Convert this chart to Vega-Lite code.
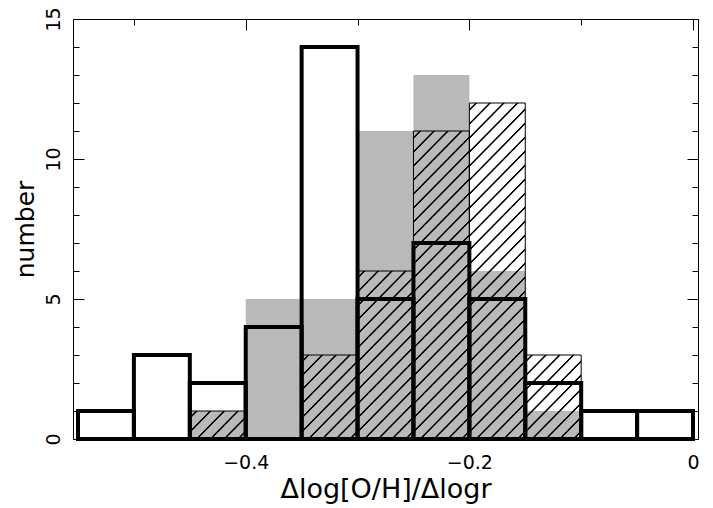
{
  "$schema": "https://vega.github.io/schema/vega-lite/v6.json",
  "autosize": {"type": "none"},
  "padding": {"left": 73, "top": 19, "right": 15, "bottom": 69},
  "width": 625,
  "height": 420,
  "background": "white",
  "config": {
    "view": {"stroke": "black", "strokeWidth": 1},
    "axis": {"grid": false, "domain": false, "tickColor": "black", "tickWidth": 1, "labelColor": "black", "titleColor": "black", "labelFont": "DejaVu Sans", "titleFont": "DejaVu Sans", "titleFontWeight": "normal"}
  },
  "datasets": {
    "bins": [
      {"lo": -0.55, "hi": -0.5, "thick": 1, "grey": 0},
      {"lo": -0.5, "hi": -0.45, "thick": 3, "grey": 0},
      {"lo": -0.45, "hi": -0.4, "thick": 2, "grey": 1},
      {"lo": -0.4, "hi": -0.35, "thick": 4, "grey": 5},
      {"lo": -0.35, "hi": -0.3, "thick": 14, "grey": 5},
      {"lo": -0.3, "hi": -0.25, "thick": 5, "grey": 11},
      {"lo": -0.25, "hi": -0.2, "thick": 7, "grey": 13},
      {"lo": -0.2, "hi": -0.15, "thick": 5, "grey": 6},
      {"lo": -0.15, "hi": -0.1, "thick": 2, "grey": 1},
      {"lo": -0.1, "hi": -0.05, "thick": 1, "grey": 0},
      {"lo": -0.05, "hi": 0, "thick": 1, "grey": 0}
    ],
    "hatched": [
      {"lo": -0.45, "hi": -0.4, "id": 1},
      {"lo": -0.35, "hi": -0.3, "id": 2},
      {"lo": -0.35, "hi": -0.3, "id": 3},
      {"lo": -0.35, "hi": -0.3, "id": 4},
      {"lo": -0.3, "hi": -0.25, "id": 5},
      {"lo": -0.3, "hi": -0.25, "id": 6},
      {"lo": -0.3, "hi": -0.25, "id": 7},
      {"lo": -0.3, "hi": -0.25, "id": 8},
      {"lo": -0.3, "hi": -0.25, "id": 9},
      {"lo": -0.3, "hi": -0.25, "id": 10},
      {"lo": -0.25, "hi": -0.2, "id": 11},
      {"lo": -0.25, "hi": -0.2, "id": 12},
      {"lo": -0.25, "hi": -0.2, "id": 13},
      {"lo": -0.25, "hi": -0.2, "id": 14},
      {"lo": -0.25, "hi": -0.2, "id": 15},
      {"lo": -0.25, "hi": -0.2, "id": 16},
      {"lo": -0.25, "hi": -0.2, "id": 17},
      {"lo": -0.25, "hi": -0.2, "id": 18},
      {"lo": -0.25, "hi": -0.2, "id": 19},
      {"lo": -0.25, "hi": -0.2, "id": 20},
      {"lo": -0.25, "hi": -0.2, "id": 21},
      {"lo": -0.2, "hi": -0.15, "id": 22},
      {"lo": -0.2, "hi": -0.15, "id": 23},
      {"lo": -0.2, "hi": -0.15, "id": 24},
      {"lo": -0.2, "hi": -0.15, "id": 25},
      {"lo": -0.2, "hi": -0.15, "id": 26},
      {"lo": -0.2, "hi": -0.15, "id": 27},
      {"lo": -0.2, "hi": -0.15, "id": 28},
      {"lo": -0.2, "hi": -0.15, "id": 29},
      {"lo": -0.2, "hi": -0.15, "id": 30},
      {"lo": -0.2, "hi": -0.15, "id": 31},
      {"lo": -0.2, "hi": -0.15, "id": 32},
      {"lo": -0.2, "hi": -0.15, "id": 33},
      {"lo": -0.15, "hi": -0.1, "id": 34},
      {"lo": -0.15, "hi": -0.1, "id": 35},
      {"lo": -0.15, "hi": -0.1, "id": 36}
    ]
  },
  "resolve": {"axis": {"x": "independent", "y": "independent"}},
  "layer": [
    {
      "data": {"name": "bins"},
      "mark": {"type": "bar", "fill": "#b9b9b9", "strokeWidth": 0},
      "encoding": {
        "x": {"field": "lo", "type": "quantitative", "scale": {"domain": [-0.55, 0], "nice": false, "zero": false},
          "axis": {"orient": "bottom", "values": [-0.5, -0.4, -0.3, -0.2, -0.1, 0],
            "tickSize": {"condition": {"test": "abs(round(datum.value*10))%2===0", "value": -11}, "value": -6},
            "labelExpr": "abs(round(datum.value*10))%2===0 ? (datum.value===0 ? '0' : format(datum.value,'.1f')) : ''",
            "labelFontSize": 19, "labelPadding": 25, "labelFlush": false,
            "title": "Δlog[O/H]/Δlogr", "titleFontSize": 27, "titlePadding": 4}},
        "x2": {"field": "hi"},
        "y": {"field": "grey", "type": "quantitative", "scale": {"domain": [0, 15], "nice": false},
          "axis": {"orient": "left", "values": [0,1,2,3,4,5,6,7,8,9,10,11,12,13,14,15],
            "tickSize": {"condition": {"test": "datum.value%5===0", "value": -11}, "value": -6},
            "labelExpr": "datum.value%5===0 ? datum.label : ''",
            "labelAngle": -90, "labelFontSize": 19, "labelPadding": 21, "labelFlush": false,
            "title": "number", "titleFontSize": 25, "titlePadding": 6}},
        "y2": {"datum": 0}
      }
    },
    {
      "data": {"name": "hatched"},
      "mark": {"type": "bar", "strokeWidth": 0, "fill": {
        "gradient": "linear", "x1": 0, "y1": 0, "x2": 1.2011, "y2": 0.5919,
        "stops": [
          {"offset": 0, "color": "rgba(0,0,0,0)"},
          {"offset": 0.0637, "color": "rgba(0,0,0,0)"}, {"offset": 0.0755, "color": "#000000"}, {"offset": 0.0896, "color": "#000000"}, {"offset": 0.1014, "color": "rgba(0,0,0,0)"},
          {"offset": 0.2287, "color": "rgba(0,0,0,0)"}, {"offset": 0.2405, "color": "#000000"}, {"offset": 0.2547, "color": "#000000"}, {"offset": 0.2664, "color": "rgba(0,0,0,0)"},
          {"offset": 0.3938, "color": "rgba(0,0,0,0)"}, {"offset": 0.4056, "color": "#000000"}, {"offset": 0.4197, "color": "#000000"}, {"offset": 0.4315, "color": "rgba(0,0,0,0)"},
          {"offset": 0.5588, "color": "rgba(0,0,0,0)"}, {"offset": 0.5706, "color": "#000000"}, {"offset": 0.5848, "color": "#000000"}, {"offset": 0.5966, "color": "rgba(0,0,0,0)"},
          {"offset": 0.7239, "color": "rgba(0,0,0,0)"}, {"offset": 0.7357, "color": "#000000"}, {"offset": 0.7498, "color": "#000000"}, {"offset": 0.7616, "color": "rgba(0,0,0,0)"},
          {"offset": 0.8890, "color": "rgba(0,0,0,0)"}, {"offset": 0.9007, "color": "#000000"}, {"offset": 0.9149, "color": "#000000"}, {"offset": 0.9267, "color": "rgba(0,0,0,0)"},
          {"offset": 1, "color": "rgba(0,0,0,0)"}
        ]}},
      "encoding": {
        "x": {"field": "lo", "type": "quantitative", "axis": null},
        "x2": {"field": "hi"},
        "y": {"aggregate": "count", "type": "quantitative", "stack": "zero", "axis": null},
        "detail": {"field": "id", "type": "nominal"}
      }
    },
    {
      "data": {"name": "hatched"},
      "mark": {"type": "bar", "filled": false, "stroke": "black", "strokeWidth": 1},
      "encoding": {
        "x": {"field": "lo", "type": "quantitative", "axis": null},
        "x2": {"field": "hi"},
        "y": {"aggregate": "count", "type": "quantitative", "axis": null}
      }
    },
    {
      "data": {"name": "bins"},
      "mark": {"type": "bar", "filled": false, "stroke": "black", "strokeWidth": 4, "strokeJoin": "miter"},
      "encoding": {
        "x": {"field": "lo", "type": "quantitative",
          "axis": {"orient": "top", "values": [-0.5, -0.4, -0.3, -0.2, -0.1, 0],
            "tickSize": {"condition": {"test": "abs(round(datum.value*10))%2===0", "value": -11}, "value": -6},
            "labels": false, "title": null}},
        "x2": {"field": "hi"},
        "y": {"field": "thick", "type": "quantitative",
          "axis": {"orient": "right", "values": [0,1,2,3,4,5,6,7,8,9,10,11,12,13,14,15],
            "tickSize": {"condition": {"test": "datum.value%5===0", "value": -11}, "value": -6},
            "labels": false, "title": null}},
        "y2": {"datum": 0}
      }
    }
  ]
}
